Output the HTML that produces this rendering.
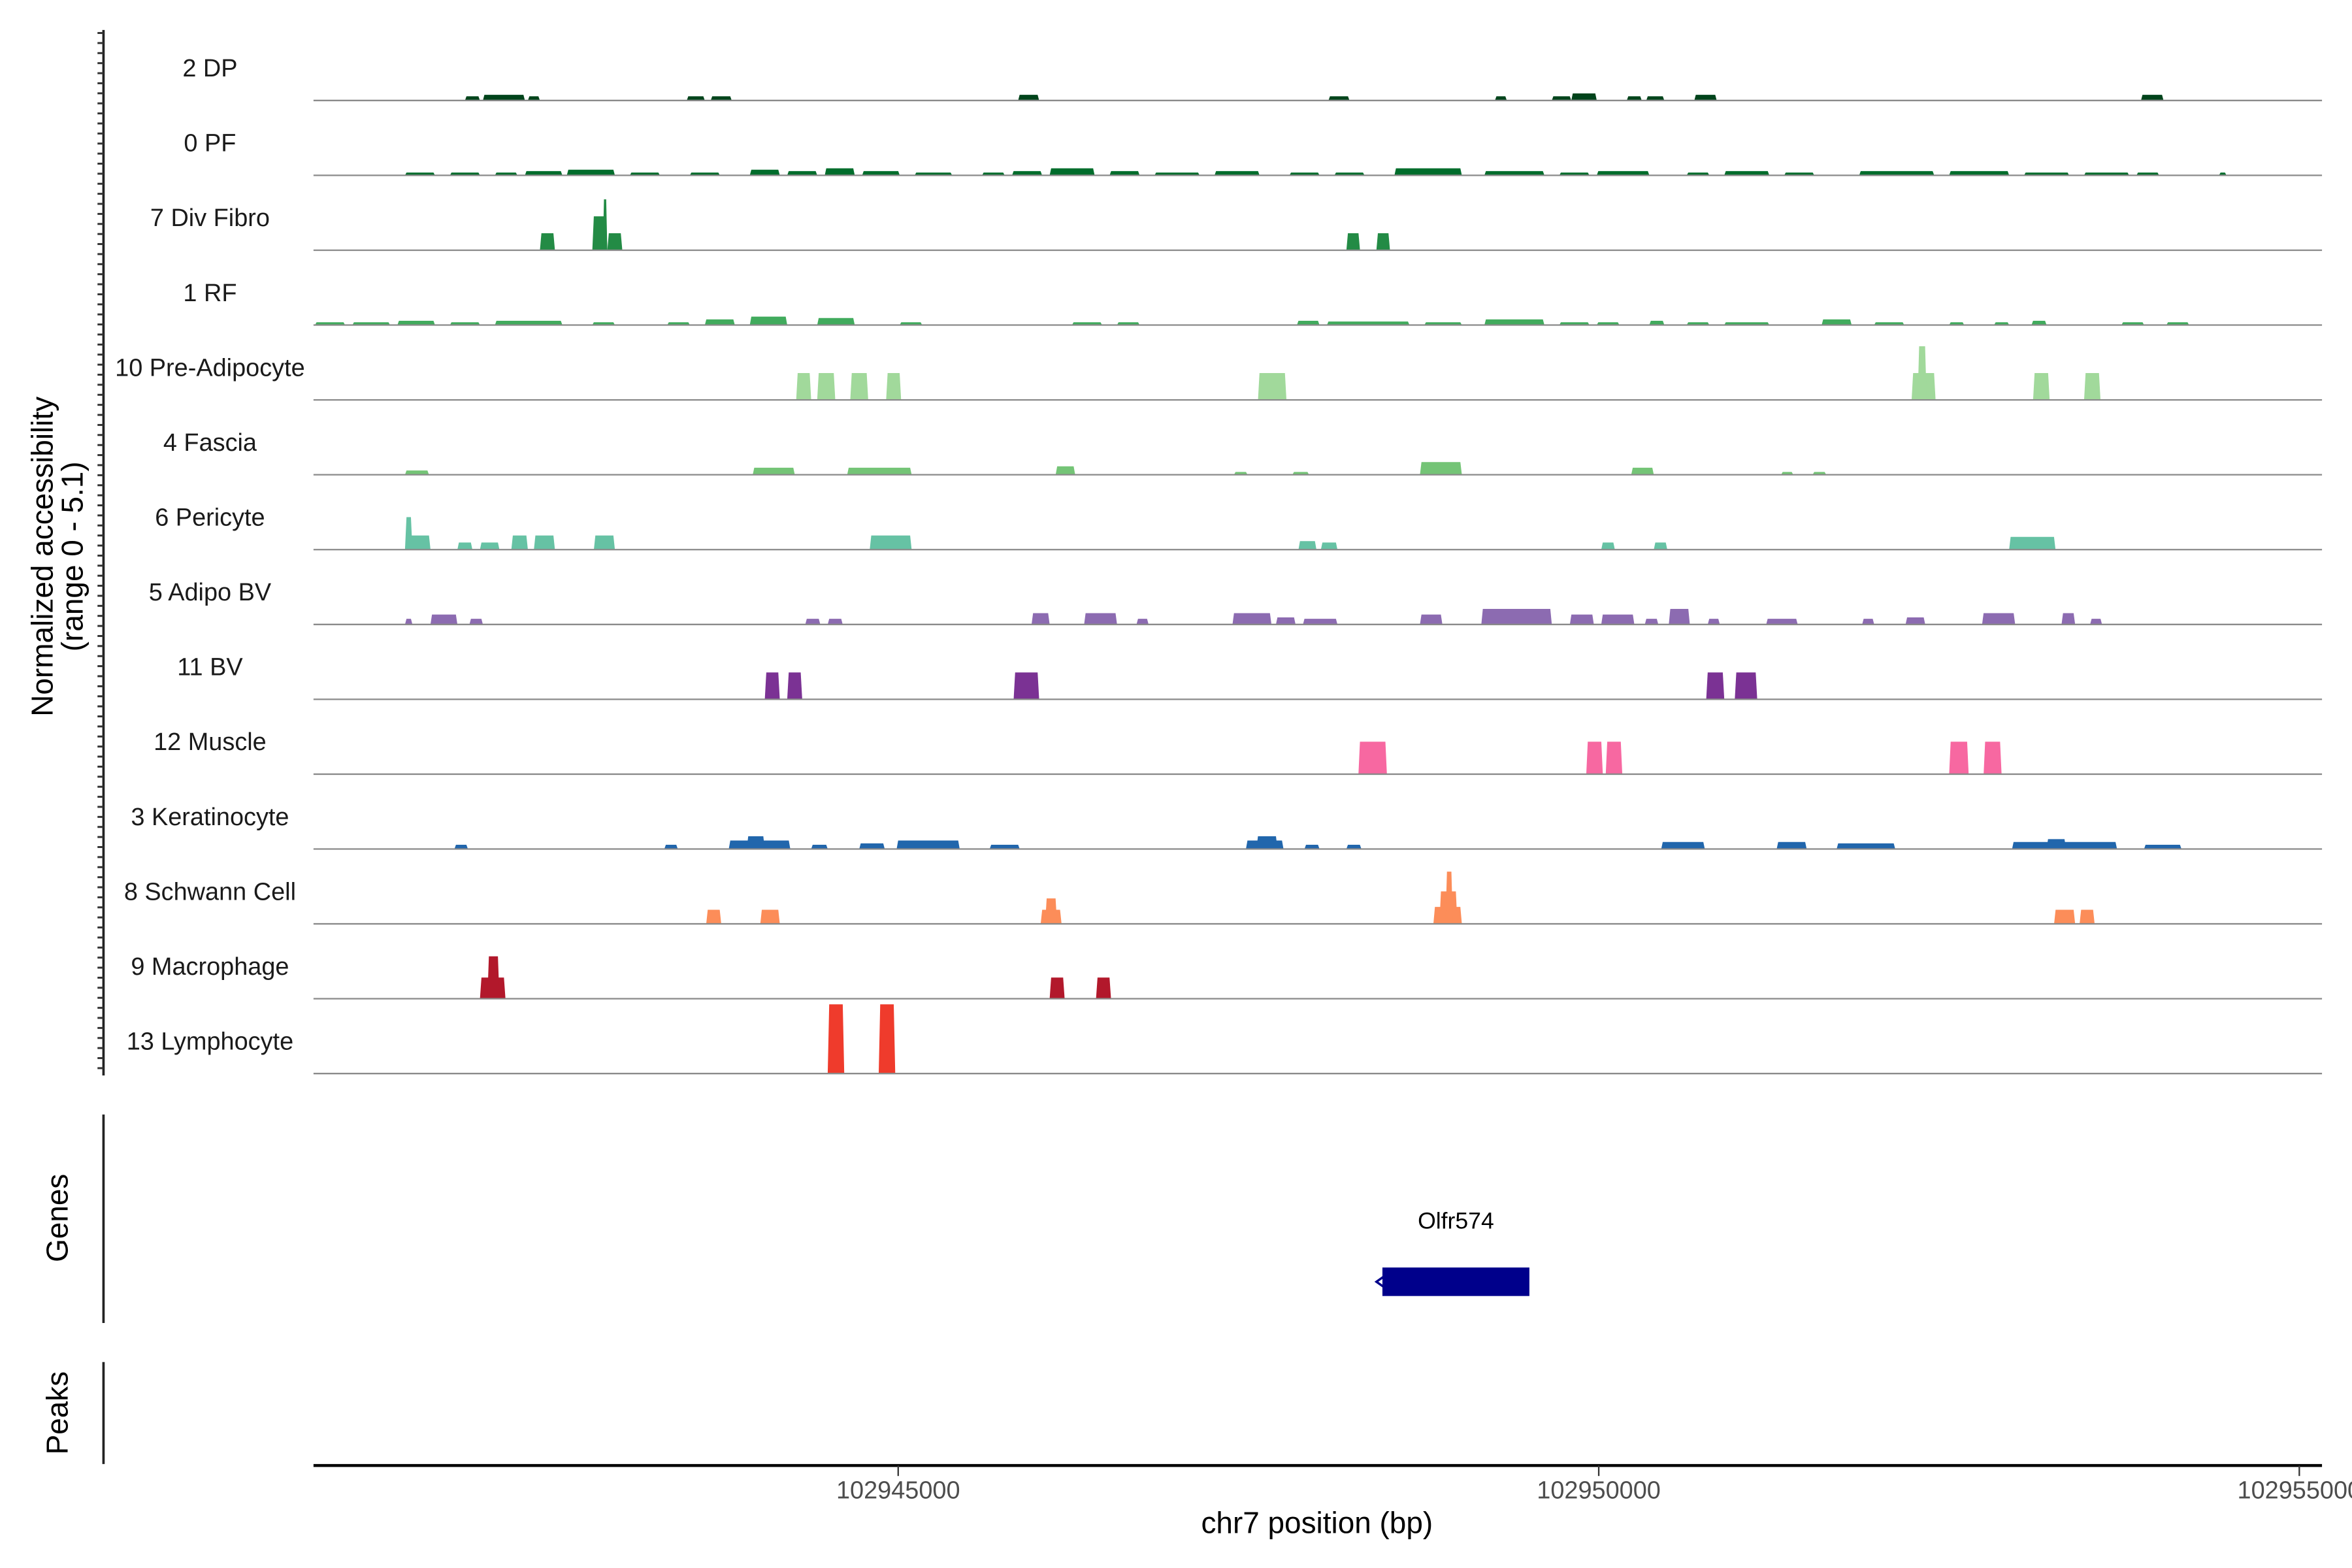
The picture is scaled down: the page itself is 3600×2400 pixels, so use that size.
<!DOCTYPE html>
<html><head><meta charset="utf-8">
<style>
html,body{margin:0;padding:0;background:#fff;}
svg{display:block;font-family:"Liberation Sans",sans-serif;}
</style></head>
<body>
<svg id="chart" width="3600" height="2400" viewBox="0 0 1568 1045.33" xmlns="http://www.w3.org/2000/svg">
  <rect x="0" y="0" width="1568" height="1046" fill="#fff"/>
  <g id="tracks"></g>
  <line x1="69" y1="20" x2="69" y2="717" stroke="#222" stroke-width="1.6"/>
  <g id="yticks"></g>
  <text transform="translate(35,371) rotate(-90)" text-anchor="middle" font-size="20" fill="#000">Normalized accessibility</text>
  <text transform="translate(55,371) rotate(-90)" text-anchor="middle" font-size="20" fill="#000">(range 0 - 5.1)</text>
  <line x1="69" y1="743" x2="69" y2="882" stroke="#222" stroke-width="1.6"/>
  <text transform="translate(45,812) rotate(-90)" text-anchor="middle" font-size="20" fill="#000">Genes</text>
  <g id="genes"></g>
  <line x1="69" y1="908" x2="69" y2="976" stroke="#222" stroke-width="1.6"/>
  <text transform="translate(45,942) rotate(-90)" text-anchor="middle" font-size="20" fill="#000">Peaks</text>
  <line x1="209" y1="977" x2="1548" y2="977" stroke="#000" stroke-width="2"/>
  <g id="xticks"></g>
  <text x="878" y="1022" text-anchor="middle" font-size="20" fill="#000">chr7 position (bp)</text>
</svg>
<script>
const trackNames = ["2 DP","0 PF","7 Div Fibro","1 RF","10 Pre-Adipocyte","4 Fascia","6 Pericyte","5 Adipo BV","11 BV","12 Muscle","3 Keratinocyte","8 Schwann Cell","9 Macrophage","13 Lymphocyte"];
const trackColors = ["#00441b","#006d2c","#238b45","#41ab5d","#a1d99b","#74c476","#66c2a4","#8c6bb1","#7b3294","#f768a1","#2166ac","#fc8d59","#b2182b","#ef3b2c"];
const xTickValues = [102945000,102950000,102955000];
const xTickLabels = ["102945000","102950000","102955000"];
const xDomain = [102940827,102955162];
const yMax = 5.1;
const peaksDP = [[102941908,102942015,0.3],[102942036,102942336,0.4],[102942357,102942443,0.3],[102943491,102943620,0.3],[102943662,102943812,0.3],[102945856,102946006,0.4],[102948071,102948221,0.3],[102949259,102949344,0.3],[102949665,102949804,0.3],[102949804,102949986,0.5],[102950200,102950307,0.3],[102950339,102950468,0.3],[102950682,102950842,0.4],[102953870,102954031,0.4]];
const peaksPF = [[102941480,102941694,0.2],[102941801,102942015,0.2],[102942122,102942282,0.2],[102942336,102942603,0.3],[102942635,102942978,0.4],[102943085,102943299,0.2],[102943513,102943727,0.2],[102943941,102944155,0.4],[102944208,102944422,0.3],[102944476,102944690,0.5],[102944743,102945011,0.3],[102945118,102945385,0.2],[102945599,102945760,0.2],[102945813,102946027,0.3],[102946081,102946402,0.5],[102946509,102946723,0.3],[102946830,102947151,0.2],[102947258,102947579,0.3],[102947793,102948007,0.2],[102948114,102948328,0.2],[102948542,102949023,0.5],[102949184,102949612,0.3],[102949719,102949933,0.2],[102949986,102950361,0.3],[102950628,102950789,0.2],[102950896,102951217,0.3],[102951324,102951538,0.2],[102951859,102952394,0.3],[102952501,102952929,0.3],[102953036,102953357,0.2],[102953464,102953785,0.2],[102953838,102953999,0.2],[102954427,102954480,0.2]];
const peaksDiv = [[102942443,102942550,1.2],[102942817,102942924,2.4],[102942892,102942924,3.6],[102942924,102943031,1.2],[102948199,102948296,1.2],[102948413,102948510,1.2]];
const peaksRF = [[102940838,102941052,0.2],[102941105,102941373,0.2],[102941426,102941694,0.3],[102941801,102942015,0.2],[102942122,102942603,0.3],[102942817,102942978,0.2],[102943352,102943513,0.2],[102943620,102943834,0.4],[102943941,102944208,0.6],[102944422,102944690,0.5],[102945011,102945171,0.2],[102946241,102946455,0.2],[102946562,102946723,0.2],[102947846,102948007,0.3],[102948060,102948649,0.25],[102948756,102949023,0.2],[102949184,102949612,0.4],[102949719,102949933,0.2],[102949986,102950147,0.2],[102950361,102950468,0.3],[102950628,102950789,0.2],[102950896,102951217,0.2],[102951591,102951805,0.4],[102951966,102952180,0.2],[102952501,102952608,0.2],[102952822,102952929,0.2],[102953089,102953196,0.3],[102953731,102953892,0.2],[102954052,102954213,0.2]];
const peaksPreAd = [[102944272,102944379,1.9],[102944422,102944551,1.9],[102944658,102944786,1.9],[102944914,102945021,1.9],[102947568,102947771,1.9],[102952233,102952404,1.9],[102952276,102952340,3.8],[102953100,102953218,1.9],[102953464,102953581,1.9]];
const peaksFascia = [[102941480,102941651,0.3],[102943962,102944262,0.5],[102944636,102945096,0.5],[102946124,102946263,0.6],[102947397,102947493,0.2],[102947814,102947932,0.2],[102948724,102949023,0.9],[102950232,102950393,0.5],[102951302,102951388,0.2],[102951527,102951623,0.2]];
const peaksPericyte = [[102941480,102941533,2.3],[102941480,102941662,1.0],[102941854,102941961,0.5],[102942015,102942154,0.5],[102942239,102942357,1.0],[102942400,102942550,1.0],[102942828,102942978,1.0],[102944797,102945096,1.0],[102947857,102947985,0.6],[102948017,102948135,0.5],[102950018,102950115,0.5],[102950393,102950489,0.5],[102952929,102953260,0.9]];
const peaksAdipoBV = [[102941480,102941533,0.4],[102941662,102941854,0.7],[102941940,102942036,0.4],[102944337,102944444,0.4],[102944497,102944604,0.4],[102945952,102946081,0.8],[102946327,102946562,0.8],[102946701,102946787,0.4],[102947386,102947664,0.8],[102947696,102947836,0.5],[102947889,102948135,0.4],[102948724,102948884,0.7],[102949162,102949665,1.1],[102949794,102949965,0.7],[102950018,102950254,0.7],[102950329,102950425,0.4],[102950500,102950650,1.1],[102950778,102950864,0.4],[102951195,102951420,0.4],[102951880,102951966,0.4],[102952190,102952330,0.5],[102952736,102952972,0.8],[102953303,102953400,0.8],[102953507,102953592,0.4]];
const peaksBV = [[102944048,102944155,1.9],[102944208,102944315,1.9],[102945824,102946006,1.9],[102950767,102950896,1.9],[102950971,102951131,1.9]];
const peaksMuscle = [[102948285,102948488,2.3],[102949911,102950029,2.3],[102950050,102950168,2.3],[102952501,102952640,2.3],[102952747,102952875,2.3]];
const peaksKerat = [[102941833,102941929,0.3],[102943331,102943427,0.3],[102943791,102944230,0.6],[102943919,102944048,0.9],[102944379,102944497,0.3],[102944722,102944904,0.4],[102944989,102945439,0.6],[102945653,102945867,0.3],[102947482,102947750,0.6],[102947557,102947707,0.9],[102947900,102948007,0.3],[102948199,102948306,0.3],[102950446,102950757,0.5],[102951270,102951484,0.5],[102951698,102952116,0.4],[102952950,102953699,0.5],[102953196,102953335,0.7],[102953892,102954159,0.3]];
const peaksSchwann = [[102943630,102943737,1.0],[102944016,102944155,1.0],[102946017,102946166,1.0],[102946049,102946134,1.8],[102948820,102949023,1.2],[102948863,102948991,2.3],[102948906,102948959,3.7],[102953250,102953400,1.0],[102953432,102953539,1.0]];
const peaksMacro = [[102942015,102942197,1.5],[102942068,102942154,3.0],[102946081,102946188,1.5],[102946412,102946519,1.5]];
const peaksLymph = [[102944497,102944615,4.9],[102944861,102944979,4.9]];
const allPeaks = [peaksDP,peaksPF,peaksDiv,peaksRF,peaksPreAd,peaksFascia,peaksPericyte,peaksAdipoBV,peaksBV,peaksMuscle,peaksKerat,peaksSchwann,peaksMacro,peaksLymph];
const geneName = "Olfr574";
const geneStart = 102948456;
const geneEnd = 102949505;

const NS = "http://www.w3.org/2000/svg";
const X0 = 209, X1 = 1548;
function xScale(v){ return X0 + (v - xDomain[0]) / (xDomain[1] - xDomain[0]) * (X1 - X0); }
const trackTop = 67, trackStep = 49.9, trackH = 48;
function yScale(v){ return v / yMax * trackH; }
function mk(tag, attrs, parent){ const e = document.createElementNS(NS, tag); for (const k in attrs) e.setAttribute(k, attrs[k]); parent.appendChild(e); return e; }

const tg = document.getElementById("tracks");
trackNames.forEach((name, i) => {
  const base = trackTop + i * trackStep;
  const g = mk("g", {}, tg);
  
  
  const lab = mk("text", {x: 140, y: base - 16, "text-anchor": "middle", "font-size": 16.5, fill: "#1a1a1a"}, g);
  lab.textContent = name;
  
  
  allPeaks[i].forEach(p => {
    const s = xScale(p[0]), e = xScale(p[1]), h = yScale(p[2]);
    const sl = Math.min(1, (e - s) / 4);
    const poly = mk("polygon", {points: `${s},${base} ${s+sl},${base-h} ${e-sl},${base-h} ${e},${base}`, fill: trackColors[i]}, g);
    
    
  });
  const bl = mk("line", {x1: X0, y1: base, x2: X1, y2: base, stroke: "#8a8a8a", "stroke-width": 1}, g);
  
  
});

const yt = document.getElementById("yticks");
for (let y = 22; y <= 716; y += 6.7) {
  const t = mk("line", {x1: 65, y1: y, x2: 69, y2: y, stroke: "#333", "stroke-width": 1.3}, yt);
  
  
}

const xt = document.getElementById("xticks");
xTickValues.forEach((v, i) => {
  const x = xScale(v);
  const t = mk("line", {x1: x, y1: 977, x2: x, y2: 984, stroke: "#333", "stroke-width": 1}, xt);
  
  
  const l = mk("text", {x: x, y: 999, "text-anchor": "middle", "font-size": 16.5, fill: "#4d4d4d"}, xt);
  l.textContent = xTickLabels[i];
  
  
});

const gg = document.getElementById("genes");
const gs = xScale(geneStart), ge = xScale(geneEnd);
const gl = mk("text", {x: (gs + ge) / 2, y: 819, "text-anchor": "middle", "font-size": 15.5, fill: "#000"}, gg);
gl.textContent = geneName;


const gb = mk("rect", {x: gs, y: 845, width: ge - gs, height: 19, fill: "#00008b"}, gg);


const ga = mk("path", {d: `M${gs+1},851 L${gs-4},854.5 L${gs+1},858`, stroke: "#00008b", "stroke-width": 1.5, fill: "none"}, gg);


</script>
</body></html>
